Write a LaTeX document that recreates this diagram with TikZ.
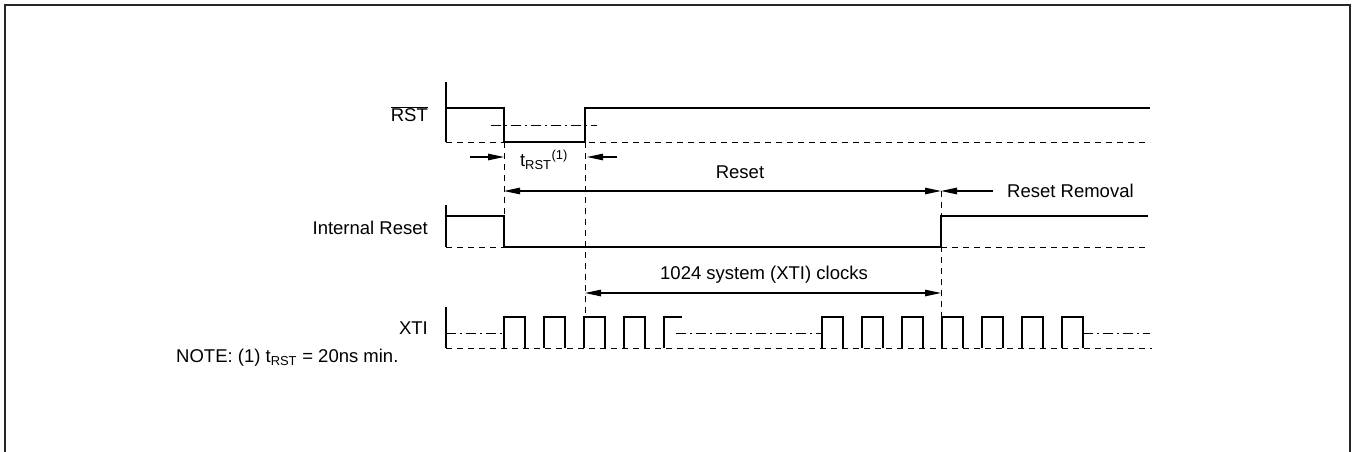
\documentclass[tikz,border=0pt]{standalone}
\usepackage{fontspec}
\setmainfont{Liberation Sans}
\usetikzlibrary{arrows.meta,positioning}
\tikzset{
  sig/.style={line width=2.6pt},
  base/.style={line width=1pt, dash pattern=on 6pt off 5pt},
  midline/.style={line width=1pt, dash pattern=on 10pt off 4pt on 2pt off 4pt},
  guide/.style={line width=1pt, dash pattern=on 6pt off 5pt},
  dim/.style={line width=1.1pt, -{Triangle[length=16pt,width=6.5pt]}},
  dimboth/.style={line width=1.1pt, {Triangle[length=16pt,width=6.5pt]}-{Triangle[length=16pt,width=6.5pt]}},
  lbl/.style={font=\fontsize{18.5}{21}\selectfont, inner sep=0pt},
}
\begin{document}
\begin{tikzpicture}[x=1pt,y=-1pt]
\useasboundingbox (0,0) rectangle (1356,452);
% frame, open at the bottom
\draw[line width=2.5pt, black!85] (5,452) -- (5,5) -- (1350,5) -- (1350,452);

% signal names
\node[lbl, anchor=east] (rst) at (428,114) {$\overline{\mbox{RST}}$};
\node[lbl, anchor=east] (irst) at (428,228) {Internal Reset};
\node[lbl, anchor=east] (xti) at (428,328) {XTI};
\node[lbl, anchor=west] (note) at (176,358) {NOTE: (1) t\textsubscript{RST} = 20ns min.};

% edges used by the guides and arrows
\coordinate (rstF) at (504,142);
\coordinate (rstR) at (585,142);
\coordinate (irF) at (504,216);
\coordinate (irR) at (941,191);
\coordinate (clkA) at (585,317);
\coordinate (clkB) at (941,317);

% RST
\draw[base] (446,142) -- (1150,142);
\draw[midline] (491,125) -- (597,125);
\draw[sig] (446,82) -- (446,142);
\draw[sig] (446,108) -- (504,108) -- (rstF) -- (rstR) -- (585,108) -- (1150,108);

% Internal Reset
\draw[base] (446,247) -- (1148,247);
\draw[sig] (446,205) -- (446,247);
\draw[sig] (446,216) -- (irF) -- (504,247) -- (941,247) -- (941,216) -- (1148,216);

% XTI
\draw[base] (446,348) -- (1152,348);
\draw[sig] (446,307) -- (446,348);
\draw[midline] (446,333) -- (504,333);
\draw[midline] (676,333) -- (822,333);
\draw[midline] (1083,333) -- (1150,333);
\foreach \x in {504,544,584,624} {
  \draw[sig] (\x,348) -- (\x,317) -- (\x+21,317) -- (\x+21,348); % clock pulses
}
\draw[sig] (664,348) -- (664,317) -- (682,317);
\foreach \x in {822,862,...,1062} {
  \draw[sig] (\x,348) -- (\x,317) -- (\x+21,317) -- (\x+21,348);
}

% guides
\draw[guide] (rstF) -- (irF);
\draw[guide] (rstR) -- (clkA);
\draw[guide] (irR) -- (clkB);

% tRST
\node[lbl] (trst) at (544,160) {t\textsubscript{RST}\textsuperscript{(1)}};
\coordinate (tin) at (470,157);
\coordinate (tout) at (617,157);
\draw[dim] (tin) -- (rstF |- tin);
\draw[dim] (tout) -- ([xshift=2pt]rstR |- tout);

% Reset and Reset Removal
\node[lbl] (rstlbl) at (740,172) {Reset};
\draw[dimboth] (rstF |- irR) -- (irR);
\node[lbl, anchor=west] (rmv) at (1007,191) {Reset Removal};
\draw[dim, shorten <=14pt] (rmv.west) -- (irR);

% 1024 clocks
\node[lbl] (clk) at (764,275) {1024 system (XTI) clocks};
\draw[dimboth] (rstR |- 0,293) -- (irR |- 0,293);
\end{tikzpicture}
\end{document}
